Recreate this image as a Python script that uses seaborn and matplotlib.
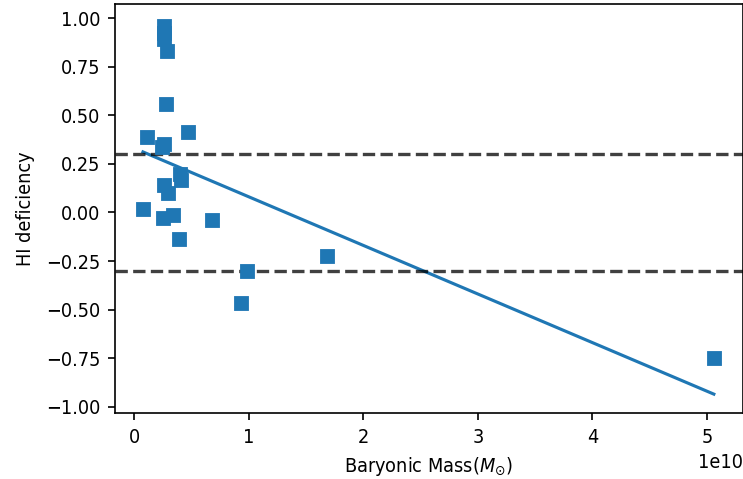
import numpy as np
import pandas as pd
import matplotlib
matplotlib.use("Agg")
import matplotlib.pyplot as plt
import seaborn as sns

# Baryonic mass in units of 1e10 solar masses, and HI deficiency
baryonic_mass_1e10 = [0.078, 0.116, 0.245, 0.262, 0.284, 0.264, 0.263, 0.262,
                      0.279, 0.474, 0.405, 0.41, 0.264, 0.294, 0.256, 0.343,
                      0.395, 0.68, 0.983, 0.934, 1.687, 5.06]
hi_deficiency = [0.02, 0.387, 0.335, 0.35, 0.83, 0.96, 0.925, 0.89,
                 0.558, 0.415, 0.20, 0.167, 0.141, 0.099, -0.03, -0.013,
                 -0.136, -0.039, -0.301, -0.464, -0.224, -0.746]

# linear fit coefficients (per 1e10 Msun)
fit_slope = -0.25
fit_intercept = 0.331
deficiency_limits = [0.3, -0.3]

df = pd.DataFrame({"mass": np.array(baryonic_mass_1e10) * 1e10,
                   "hi": hi_deficiency})
xfit = np.array([df["mass"].min(), df["mass"].max()])
fit_df = pd.DataFrame({"mass": xfit,
                       "hi": fit_slope * xfit / 1e10 + fit_intercept})

plt.rcParams["font.family"] = ["DejaVu Sans"]
plt.rcParams["font.stretch"] = "condensed"
plt.rcParams["font.size"] = 9.5

DPI = 150
fig = plt.figure(figsize=(743 / DPI, 479 / DPI), dpi=DPI)
ax = fig.add_axes([115 / 743, 66 / 479, 627.5 / 743, 409 / 479])

sns.scatterplot(data=df, x="mass", y="hi", marker="s", s=40,
                color="#1f77b4", edgecolor="#1f77b4", linewidth=0.4, ax=ax,
                zorder=3)
sns.lineplot(data=fit_df, x="mass", y="hi", color="#1f77b4", lw=1.5, ax=ax)
for lim in deficiency_limits:
    ax.axhline(lim, color="k", ls="--", lw=1.6, alpha=0.75)

ax.set_xlim(-0.166e10, 5.31e10)
ax.set_ylim(-1.031, 1.072)
ax.set_yticks(np.arange(-1.0, 1.01, 0.25))
ax.set_xlabel(r"Baryonic Mass($M_{\odot}$)")
ax.set_ylabel("HI deficiency", labelpad=5.5)

fig.savefig("out.png", dpi=DPI)
